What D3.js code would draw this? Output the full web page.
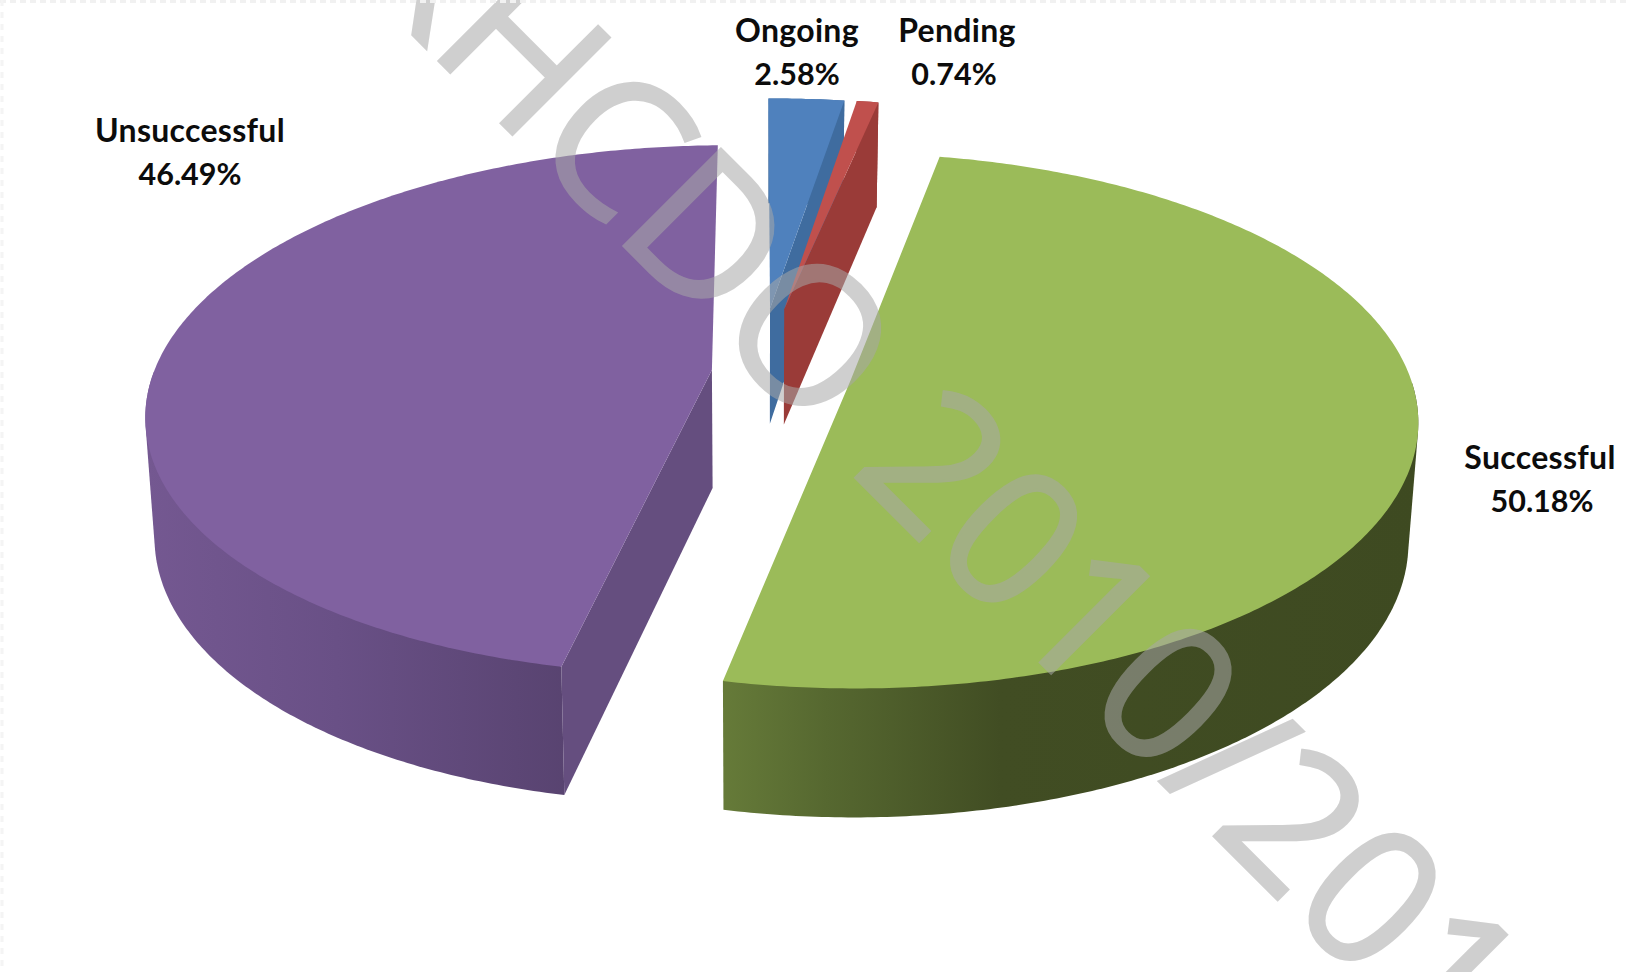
<!DOCTYPE html>
<html><head><meta charset="utf-8">
<style>html,body{margin:0;padding:0;background:#fff;overflow:hidden}svg{display:block}text{font-family:Lato,Carlito,"Open Sans",sans-serif}</style>
<script src="https://cdn.jsdelivr.net/npm/d3@7/dist/d3.min.js"></script>
</head><body><svg id="c" width="1626" height="972"></svg>
<script>
// ---- data ----
const categories = ["Successful", "Unsuccessful", "Ongoing", "Pending"];
const shares = [50.18, 46.49, 2.58, 0.74];
const watermark = "KHCDO 2010/2011";
// ---- styling ----
const topColors  = ["#9bbb59", "#8061a0", "#4f81bd", "#c0504d"];
const edgeColors = ["#667a39", "#654e7f", "#3f6c9f", "#9a3b38"];
const explode = [0.167, 0.085, 0.255, 0.255];
const visibleEdge = [null, "start", "end", "end"];
const labelPos = [[1540,469],[190,142],[797,42],[957,42]];
const valueDx = [2,0,0,-3];

// ---- projection of the tilted pie (homography of the disc plane) ----
const X0=759, Y0=372, A=558, S=10, B=259, P=0.15, H=118;
const startAngle = 10.9*Math.PI/180;
const project = (u,v,down) => {
  const w=1+P*v;
  let x=X0+(A*u+S*v)/w, y=Y0-B*v/w;
  if(down){ x=X0+(x-X0)*0.985; y+=H*(1-0.09*v); }
  return [x,y];
};
const svg=d3.select("#c");
const defs=svg.append("defs");
const g1=defs.append("linearGradient").attr("id","wall0").attr("gradientUnits","userSpaceOnUse").attr("x1",721).attr("x2",1420).attr("y1",0).attr("y2",0);
[[0,"#667b39"],[0.15,"#566830"],[0.40,"#414d23"],[1,"#3e4a21"]].forEach(d=>g1.append("stop").attr("offset",d[0]).attr("stop-color",d[1]));
const g2=defs.append("linearGradient").attr("id","wall1").attr("gradientUnits","userSpaceOnUse").attr("x1",147).attr("x2",570).attr("y1",0).attr("y2",0);
[[0,"#745891"],[0.45,"#695086"],[1,"#584370"]].forEach(d=>g2.append("stop").attr("offset",d[0]).attr("stop-color",d[1]));

const pie=d3.pie().sort(null).startAngle(startAngle).endAngle(startAngle+2*Math.PI);
const arcs=pie(shares);
const line=d3.line();
[2,3,1,0].forEach(i=>{
  const a=arcs[i], mid=(a.startAngle+a.endAngle)/2;
  const cu=explode[i]*Math.sin(mid), cv=explode[i]*Math.cos(mid);
  const angs=d3.range(a.startAngle,a.endAngle,0.01).concat([a.endAngle]);
  const rim=angs.map(t=>[cu+Math.sin(t),cv+Math.cos(t)]);
  const topRim=rim.map(p=>project(p[0],p[1],false));
  const botRim=rim.map(p=>project(p[0],p[1],true));
  const c0=project(cu,cv,false), c1=project(cu,cv,true);
  const g=svg.append("g");
  const wallFill=i<2?`url(#wall${i})`:edgeColors[i];
  // outer wall: hull of the front part of the upper and lower rims gives the tangent silhouette
  const front=i<2?angs.map((t,k)=>k).filter(k=>Math.cos(angs[k])<0):angs.map((t,k)=>k);
  const hull=d3.polygonHull(front.map(k=>topRim[k]).concat(front.map(k=>botRim[k])));
  g.append("path").attr("d",line(hull)+"Z").attr("fill",wallFill);
  // the radial face turned to the viewer
  if(visibleEdge[i]){
    const k=visibleEdge[i]==="start"?0:topRim.length-1;
    g.append("path").attr("d",line([c0,topRim[k],botRim[k],c1])+"Z").attr("fill",edgeColors[i]);
  }
  // top
  g.append("path").attr("d",line([c0].concat(topRim))+"Z").attr("fill",topColors[i]);
});

// labels
categories.forEach((c,i)=>{
  const t=svg.append("text").attr("text-anchor","middle").attr("font-weight",700).attr("fill","#0c0c0c");
  t.append("tspan").attr("x",labelPos[i][0]).attr("y",labelPos[i][1]).attr("font-size",32).attr("letter-spacing",0.3).text(c);
  t.append("tspan").attr("x",labelPos[i][0]+valueDx[i]).attr("y",labelPos[i][1]+43).attr("font-size",30.5).text(d3.format(".2f")(shares[i])+"%");
});

// watermark
svg.append("text").attr("transform","translate(343,-35) rotate(45)")
  .style("font-family","'Open Sans',sans-serif").attr("letter-spacing",-0.5)
  .attr("font-size",192).attr("fill","#a8a8a8").attr("stroke","#a8a8a8").attr("stroke-width",3).attr("opacity",0.54).text(watermark);

// faint page edge pattern
svg.append("line").attr("x1",0).attr("x2",1626).attr("y1",1.5).attr("y2",1.5).attr("stroke","#f1f1f1").attr("stroke-width",3).attr("stroke-dasharray","6 4");
svg.append("line").attr("x1",2).attr("x2",2).attr("y1",0).attr("y2",972).attr("stroke","#f4f4f4").attr("stroke-width",3).attr("stroke-dasharray","6 6");
</script></body></html>
